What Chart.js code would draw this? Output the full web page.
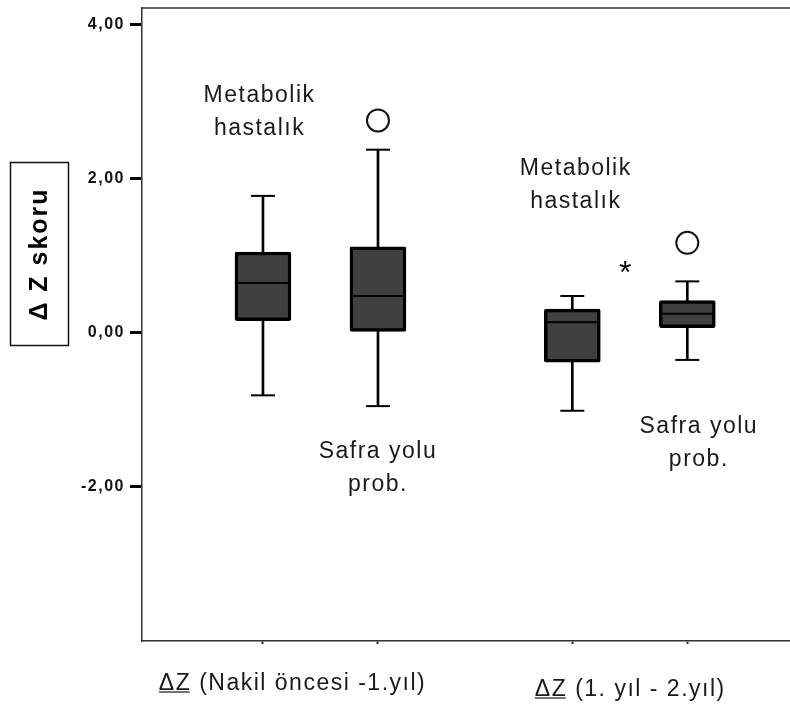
<!DOCTYPE html>
<html>
<head>
<meta charset="utf-8">
<script src="https://cdn.jsdelivr.net/npm/chart.js@4/dist/chart.umd.min.js"></script>
<style>
  html, body { margin: 0; padding: 0; background: #fff; }
  canvas { display: block; }
</style>
</head>
<body>
<canvas id="boxChart" width="790" height="705"></canvas>
<script>
// groups on the x axis and the two series inside each group
const categories = ["ΔZ (Nakil öncesi -1.yıl)", "ΔZ (1. yıl - 2.yıl)"];
const groups = ["Metabolik hastalık", "Safra yolu prob."];

// box values, order: [grp1-Metabolik, grp1-Safra, grp2-Metabolik, grp2-Safra]
const whiskerLow = [-0.82, -0.96, -1.02, -0.36];
const q1 = [0.15, 0.01, -0.39, 0.06];
const median = [0.64, 0.47, 0.13, 0.24];
const q3 = [1.04, 1.11, 0.30, 0.41];
const whiskerHigh = [1.77, 2.37, 0.47, 0.66];
const outliers = [[], [2.75], [], [1.16]];

const yTicks = [-2, 0, 2, 4];

const FONT = "'Liberation Sans', Arial, sans-serif";

// x position of every box on the linear x scale
const groupGap = 2.69;
const boxX = [];
categories.forEach((c, g) => {
  groups.forEach((s, k) => boxX.push(1 + g * groupGap + k));
});

const boxData = boxX.map((x, i) => ({ x: x, y: [q1[i], q3[i]] }));
const whiskerData = boxX.map((x, i) => ({ x: x, y: [whiskerLow[i], whiskerHigh[i]] }));
const medianData = boxX.map((x, i) => ({ x: x, y: median[i] }));
const capData = [];
boxX.forEach((x, i) => {
  capData.push({ x: x, y: whiskerLow[i] });
  capData.push({ x: x, y: whiskerHigh[i] });
});
const outlierData = [];
boxX.forEach((x, i) => outliers[i].forEach(v => outlierData.push({ x: x, y: v })));

// text placed inside the plot, anchored in data units
const notes = [
  { lines: groups[0].split(" "), x: 0.97, y: 2.99 },
  { lines: ["Safra yolu", "prob."], x: 2.0, y: -1.634 },
  { lines: groups[0].split(" "), x: 3.72, y: 2.04 },
  { lines: ["Safra yolu", "prob."], x: 4.79, y: -1.313 }
];
const star = { x: 4.15, y: 0.85 };
const catLabelPos = [{ x: 1.257, dy: 49 }, { x: 4.194, dy: 55 }];

const decorPlugin = {
  id: "decor",
  beforeDraw(chart) {
    chart.ctx.letterSpacing = "1.5px";
  },
  afterDraw(chart) {
    const ctx = chart.ctx;
    const xs = chart.scales.x;
    const ys = chart.scales.y;
    const area = chart.chartArea;
    ctx.save();

    // top frame line
    ctx.strokeStyle = "#333";
    ctx.lineWidth = 1.5;
    ctx.beginPath();
    ctx.moveTo(area.left, area.top);
    ctx.lineTo(area.right, area.top);
    ctx.stroke();

    // notes in the plot
    ctx.fillStyle = "#1a1a1a";
    ctx.font = "23px " + FONT;
    ctx.letterSpacing = "1.5px";
    ctx.textAlign = "center";
    ctx.textBaseline = "alphabetic";
    notes.forEach(n => {
      const px = xs.getPixelForValue(n.x);
      const py = ys.getPixelForValue(n.y);
      n.lines.forEach((t, j) => ctx.fillText(t, px, py + j * 33));
    });

    // asterisk
    ctx.font = "32px " + FONT;
    ctx.letterSpacing = "0px";
    const m = ctx.measureText("*");
    const sy = ys.getPixelForValue(star.y) + (m.actualBoundingBoxAscent - m.actualBoundingBoxDescent) / 2;
    ctx.fillStyle = "#000";
    ctx.fillText("*", xs.getPixelForValue(star.x), sy);

    // category labels under the x axis, "ΔZ" underlined
    ctx.font = "23px " + FONT;
    ctx.letterSpacing = "1.5px";
    ctx.fillStyle = "#1a1a1a";
    ctx.textAlign = "left";
    categories.forEach((c, i) => {
      const w = ctx.measureText(c).width;
      const cx = xs.getPixelForValue(catLabelPos[i].x);
      const by = area.bottom + catLabelPos[i].dy;
      const lx = cx - w / 2;
      ctx.fillText(c, lx, by);
      const uw = ctx.measureText("ΔZ").width - 1.5;
      ctx.strokeStyle = "#1a1a1a";
      ctx.lineWidth = 1.2;
      ctx.beginPath();
      ctx.moveTo(lx, by + 2);
      ctx.lineTo(lx + uw, by + 2);
      ctx.stroke();
    });

    // y axis title in a box
    ctx.strokeStyle = "#111";
    ctx.lineWidth = 1.5;
    ctx.strokeRect(10.5, 162.5, 58, 183);
    ctx.translate(39, 254);
    ctx.rotate(-Math.PI / 2);
    ctx.font = "bold 25px " + FONT;
    ctx.letterSpacing = "2px";
    ctx.textAlign = "center";
    ctx.textBaseline = "middle";
    ctx.fillStyle = "#000";
    ctx.fillText("Δ Z skoru", 0, 1);
    ctx.restore();
  }
};

const ctx = document.getElementById("boxChart").getContext("2d");

new Chart(ctx, {
  type: "bar",
  data: {
    datasets: [
      {
        type: "scatter",
        data: outlierData,
        pointStyle: "circle",
        pointRadius: 11,
        pointBorderWidth: 2,
        pointBorderColor: "#111",
        pointBackgroundColor: "#fff",
        order: 1
      },
      {
        type: "scatter",
        data: medianData,
        pointStyle: "line",
        pointRadius: 26,
        pointBorderWidth: 2,
        pointBorderColor: "#000",
        order: 1
      },
      {
        type: "scatter",
        data: capData,
        pointStyle: "line",
        pointRadius: 12,
        pointBorderWidth: 2,
        pointBorderColor: "#000",
        order: 1
      },
      {
        data: boxData,
        backgroundColor: "#404040",
        borderColor: "#000",
        borderWidth: 3.5,
        borderRadius: 2,
        borderSkipped: false,
        barThickness: 56,
        grouped: false,
        order: 2
      },
      {
        data: whiskerData,
        backgroundColor: "#000",
        borderWidth: 0,
        barThickness: 2,
        grouped: false,
        order: 3
      }
    ]
  },
  options: {
    responsive: false,
    animation: false,
    events: [],
    layout: { autoPadding: false, padding: { top: 8, left: 0, right: 0, bottom: 0 } },
    plugins: {
      legend: { display: false },
      tooltip: { enabled: false }
    },
    scales: {
      x: {
        type: "linear",
        offset: false,
        min: -0.052,
        max: 5.583,
        afterBuildTicks: s => { s.ticks = boxX.map(v => ({ value: v })); },
        afterFit: s => { s.height = 64; s.paddingLeft = 0; s.paddingRight = 0; },
        ticks: { autoSkip: false, callback: () => "" },
        grid: { offset: false, drawOnChartArea: false, tickLength: 3, tickWidth: 2, tickColor: "#333" },
        border: { color: "#333", width: 1.5 }
      },
      y: {
        min: -4.01,
        max: 4.21,
        afterBuildTicks: s => { s.ticks = yTicks.map(v => ({ value: v })); },
        afterFit: s => { s.width = 142; s.paddingTop = 0; s.paddingBottom = 0; },
        ticks: {
          padding: 5,
          color: "#111",
          font: { family: FONT, size: 16, weight: "bold" },
          callback: v => v.toFixed(2).replace(".", ",")
        },
        grid: { drawOnChartArea: false, tickLength: 12, tickWidth: 3, tickColor: "#000" },
        border: { color: "#333", width: 1.5 }
      }
    }
  },
  plugins: [decorPlugin]
});
</script>
</body>
</html>
